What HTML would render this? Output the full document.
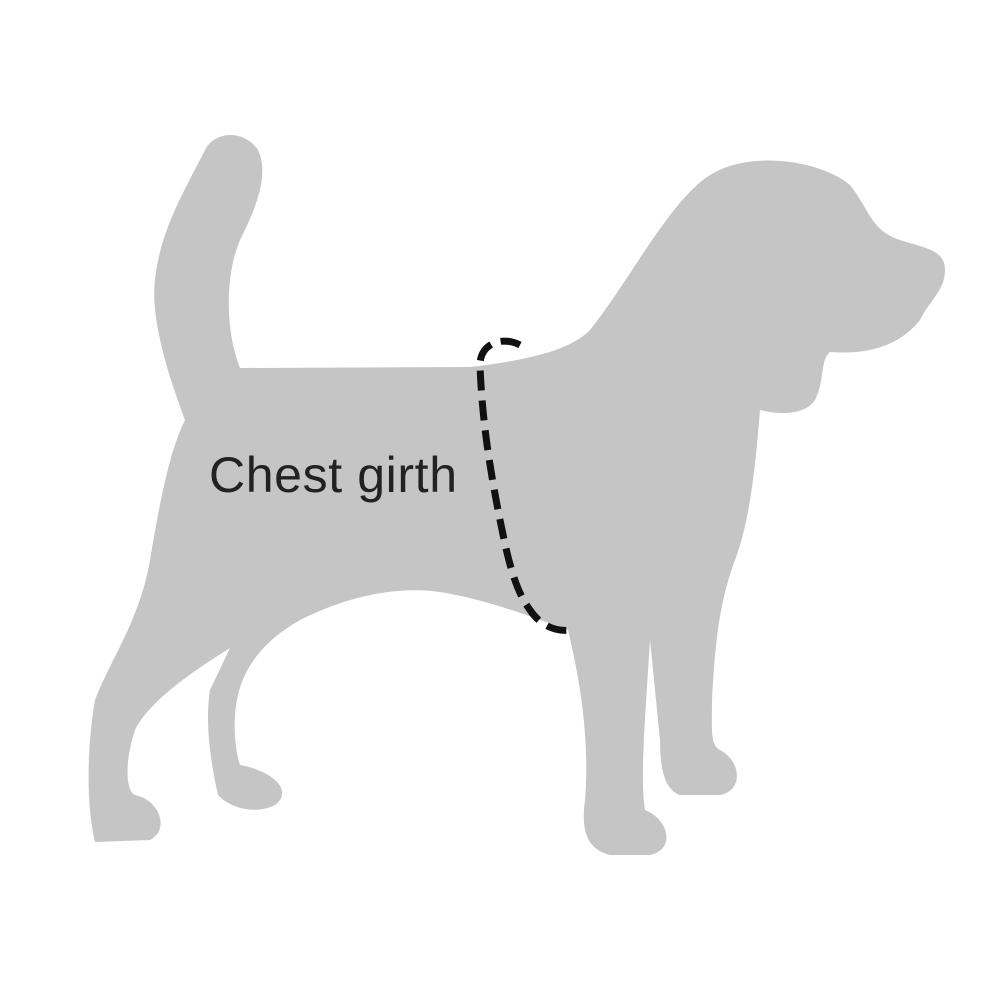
<!DOCTYPE html>
<html><head><meta charset="utf-8"><style>
html,body{margin:0;padding:0;background:#fff;}
svg{display:block;}
</style></head><body>
<svg width="1000" height="1000" viewBox="0 0 1000 1000" xmlns="http://www.w3.org/2000/svg">
<rect width="1000" height="1000" fill="#fff"/>
<path fill="#c5c5c5" d="M 185 420
C 170 380 150 320 155 280
C 160 230 185 190 205 150
C 215 130 245 130 258 150
C 270 175 255 210 240 240
C 225 275 225 330 240 368
L 470 367
C 530 360 570 350 590 330
C 630 280 670 200 710 175
C 750 150 820 160 850 185
C 870 210 870 230 900 240
C 925 248 945 250 945 270
C 945 290 930 300 920 320
C 900 345 870 355 830 352
C 820 360 825 380 815 400
C 805 415 780 415 760 410
C 755 470 750 520 735 560
C 720 600 715 640 712 700
C 712 730 710 745 720 750
C 740 760 745 790 720 795
L 680 795
C 665 790 660 770 660 740
L 650 640
C 645 720 640 780 645 810
C 670 820 675 850 650 855
L 610 855
C 590 850 580 835 585 800
C 590 740 580 680 568 630
C 540 620 490 600 440 592
C 390 585 340 600 300 620
C 265 640 245 665 238 695
C 232 720 235 750 240 765
C 270 770 295 790 275 805
C 255 815 230 808 218 795
C 210 760 205 720 210 690
L 230 648
C 195 670 150 700 135 730
C 125 760 125 790 135 795
C 160 800 170 830 150 840
L 95 842
C 85 800 88 740 95 700
C 110 660 140 620 150 560
C 160 500 170 450 185 420 Z"/>
<path fill="none" stroke="#111" stroke-width="7" stroke-dasharray="20 10" d="M 520 345 C 500 335 480 345 480 365 C 482 420 490 470 500 520 C 508 560 515 590 530 610 C 540 625 555 632 570 630"/>
<text x="209" y="492" font-family="Liberation Sans, sans-serif" font-size="50" textLength="248" fill="#222">Chest girth</text>
</svg>
</body></html>
